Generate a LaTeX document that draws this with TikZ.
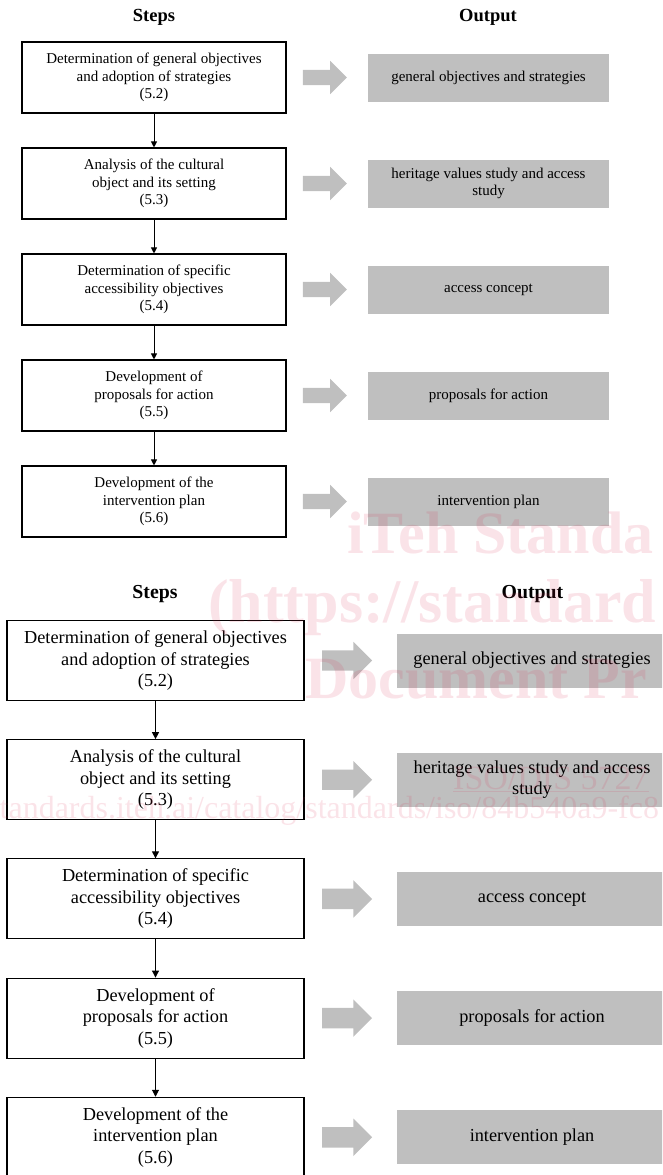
\documentclass[tikz,border=0pt]{standalone}
\usepackage{fontspec}
\setmainfont{Liberation Serif}
\usetikzlibrary{arrows.meta,shapes.arrows}

\definecolor{wmark}{RGB}{220,40,80}

\begin{document}
\begin{tikzpicture}[x=1pt,y=-1pt]
\tikzset{heading/.style={font=\bfseries\fontsize{18.5}{20}\selectfont,anchor=base},
 headingbig/.style={font=\bfseries\fontsize{19.8}{22}\selectfont,anchor=base},
 stepbox/.style={draw,line width=1.1pt,align=center,inner sep=0pt,minimum width=264pt,minimum height=71pt,font=\fontsize{15}{17.5}\selectfont},
 stepboxbig/.style={stepbox,minimum width=297pt,minimum height=80pt,font=\fontsize{18.3}{21.5}\selectfont},
 outp/.style={fill=black!25,align=center,inner sep=0pt,minimum width=241pt,minimum height=48pt,font=\fontsize{15}{17.5}\selectfont},
 outpbig/.style={outp,minimum width=271pt,minimum height=54pt,font=\fontsize{18.3}{21.5}\selectfont},
 blockarr/.style={single arrow,fill=black!25,inner xsep=0pt,inner ysep=7.5pt,minimum height=44pt,single arrow head extend=9pt},
 blockarrbig/.style={blockarr,inner ysep=10pt,minimum height=50pt,single arrow head extend=8.5pt},
 vline/.style={line width=1pt,-{Triangle[length=6pt,width=6pt]}},
 vlinebig/.style={line width=1pt,-{Triangle[length=7pt,width=7pt]}},
 wm/.style={text=wmark,text opacity=0.13,anchor=base west,inner sep=0pt,font=\bfseries\fontsize{60}{60}\selectfont}}
\useasboundingbox (0,0) rectangle (662,1175);
\clip (0,0) rectangle (662,1175);

% small chart
\node[heading] (hs) at (154,21.5) {Steps};
\node[heading] (ho) at (488,21.5) {Output};
\node[stepbox] (s1) at (154,77.5) {Determination of general objectives\\and adoption of strategies\\(5.2)};
\node[stepbox] (s2) at (154,183.5) {Analysis of the cultural\\object and its setting\\(5.3)};
\node[stepbox] (s3) at (154,289.5) {Determination of specific\\accessibility objectives\\(5.4)};
\node[stepbox] (s4) at (154,395.5) {Development of\\proposals for action\\(5.5)};
\node[stepbox] (s5) at (154,501.5) {Development of the\\intervention plan\\(5.6)};
\node[outp] (o1) at (488.5,77.5) {general objectives and strategies};
\node[outp] (o2) at (488.5,183.5) {heritage values study and access\\study};
\node[outp] (o3) at (488.5,289.5) {access concept};
\node[outp] (o4) at (488.5,395.5) {proposals for action};
\node[outp] (o5) at (488.5,501.5) {intervention plan};
\foreach \n/\y in {1/77.5,2/183.5,3/289.5,4/395.5,5/501.5}
	\node[blockarr] (r\n) at (321,\y) {};
\foreach \from/\to in {s1/s2,s2/s3,s3/s4,s4/s5}
	\draw[vline] (\from) -- (\to);

% big chart
\node[headingbig] (bhs) at (155,598) {Steps};
\node[headingbig] (bho) at (532.5,598) {Output};
\node[stepboxbig] (bs1) at (155.5,660.5) {Determination of general objectives\\and adoption of strategies\\(5.2)};
\node[stepboxbig] (bs2) at (155.5,779.7) {Analysis of the cultural\\object and its setting\\(5.3)};
\node[stepboxbig] (bs3) at (155.5,898.9) {Determination of specific\\accessibility objectives\\(5.4)};
\node[stepboxbig] (bs4) at (155.5,1018.1) {Development of\\proposals for action\\(5.5)};
\node[stepboxbig] (bs5) at (155.5,1137.3) {Development of the\\intervention plan\\(5.6)};
\node[outpbig] (bo1) at (532,660.5) {general objectives and strategies};
\node[outpbig] (bo2) at (532,779.7) {heritage values study and access\\study};
\node[outpbig] (bo3) at (532,898.9) {access concept};
\node[outpbig] (bo4) at (532,1018.1) {proposals for action};
\node[outpbig] (bo5) at (532,1137.3) {intervention plan};
\foreach \n/\y in {1/660.5,2/779.7,3/898.9,4/1018.1,5/1137.3}
	\node[blockarrbig] (br\n) at (342,\y) {};
\foreach \from/\to in {bs1/bs2,bs2/bs3,bs3/bs4,bs4/bs5}
	\draw[vlinebig] (\from) -- (\to);

% watermark
\node[wm] (w1) at (347,553) {iTeh Standa};
\node[wm,font=\bfseries\fontsize{62}{62}\selectfont] (w2) at (208,622) {(https://standard};
\node[wm] (w3) at (305,698) {Document Pr};
\node[wm,font=\fontsize{34}{34}\selectfont] (w4) at (453,789) {\underline{ISO/DIS 5727}};
\node[wm,font=\fontsize{32}{32}\selectfont] (w5) at (-13,818) {standards.iteh.ai/catalog/standards/iso/84b540a9-fc8};

\end{tikzpicture}
\end{document}
